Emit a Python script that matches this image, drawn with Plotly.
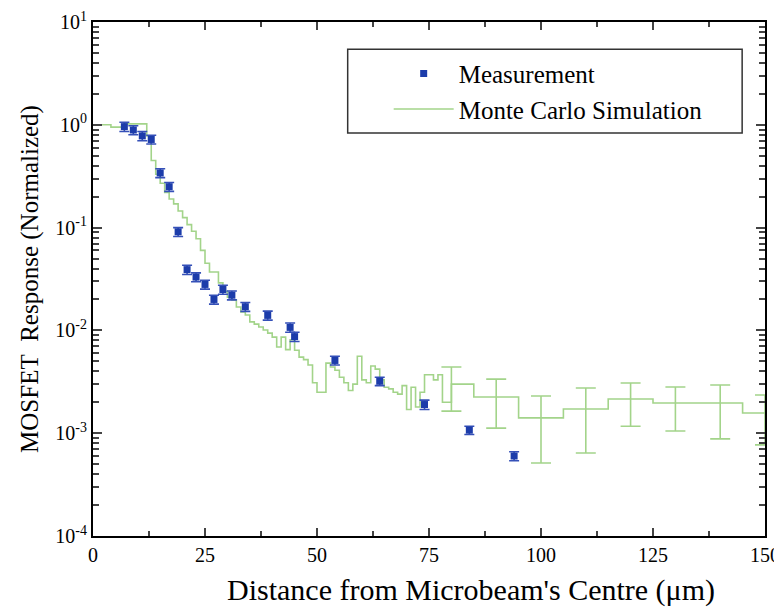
import plotly.graph_objects as go

# Measurement data
meas_x = [7, 9, 11, 13, 15, 17, 19, 21, 23, 25, 27, 29, 31, 34, 39, 44, 45, 54, 64, 74, 84, 94]
meas_y = [0.96, 0.89, 0.78, 0.72, 0.34, 0.25, 0.091, 0.039, 0.033, 0.028, 0.020, 0.025,
          0.022, 0.017, 0.014, 0.0107, 0.0087, 0.0051, 0.0032, 0.0019, 0.00107, 0.0006]
meas_err = [0.10, 0.09, 0.08, 0.07, 0.034, 0.025, 0.009, 0.004, 0.0033, 0.0028, 0.002, 0.0025,
            0.0022, 0.0017, 0.0014, 0.0011, 0.0009, 0.0005, 0.0003, 0.0002, 0.0001, 0.00006]

# Monte Carlo histogram: left bin edges and bin values (last value repeats to close final bin)
mc_edges = list(range(0, 80)) + [80, 85, 95, 105, 115, 125, 135, 145, 150]
mc_vals = [1.0, 1.0, 1.0, 1.0, 0.95, 0.95, 0.95, 1.02, 1.02, 1.02,
           1.02, 1.02, 0.78, 0.45, 0.33, 0.27, 0.22, 0.19, 0.17, 0.145,
           0.125, 0.107, 0.092, 0.078, 0.060, 0.045, 0.037, 0.037, 0.029, 0.024,
           0.021, 0.0198, 0.0169, 0.0151, 0.0141, 0.0121, 0.0115, 0.0108, 0.0101, 0.0094,
           0.0086, 0.0069, 0.0086, 0.0065, 0.0081, 0.0064, 0.0055, 0.0052, 0.0046, 0.0031,
           0.0025, 0.0025, 0.0048, 0.0044, 0.0041, 0.0035, 0.0031, 0.0026, 0.0030, 0.0056,
           0.0033, 0.0031, 0.0045, 0.0042, 0.0033, 0.0028, 0.0027, 0.0025, 0.0024, 0.0029,
           0.0017, 0.0028, 0.0018, 0.0025, 0.0037, 0.0037, 0.0033, 0.0037, 0.0020, 0.0020,
           0.0030, 0.00225, 0.00141, 0.00172, 0.00215, 0.00197, 0.00197, 0.00157, 0.00157]

# Monte Carlo error bars (wide bins)
mc_err_x = [80, 90, 100, 110, 120, 130, 140, 150]
mc_err_mid = [0.0030, 0.00225, 0.00141, 0.00172, 0.00215, 0.00197, 0.00197, 0.00157]
mc_err_hi = [0.0044, 0.00336, 0.0023, 0.00275, 0.00308, 0.00281, 0.00294, 0.00235]
mc_err_lo = [0.00164, 0.00112, 0.000513, 0.000641, 0.00117, 0.00105, 0.00088, 0.00077]

x_ticks = [0, 25, 50, 75, 100, 125, 150]
y_tickvals = [1e-4, 1e-3, 1e-2, 1e-1, 1, 10]
y_ticktext = ["10<sup>-4</sup>", "10<sup>-3</sup>", "10<sup>-2</sup>", "10<sup>-1</sup>",
              "10<sup>0</sup>", "10<sup>1</sup>"]

GREEN = "#a3d48a"
BLUE = "#1c3caa"
FONT = "Liberation Serif"

fig = go.Figure()

fig.add_trace(go.Scatter(
    x=mc_edges, y=mc_vals, mode="lines", line=dict(shape="hv", color=GREEN, width=1.6),
    name="Monte Carlo Simulation", showlegend=True, legendrank=2))

fig.add_trace(go.Scatter(
    x=mc_err_x, y=mc_err_mid, mode="markers", marker=dict(size=1, color="rgba(0,0,0,0)"),
    error_y=dict(type="data", symmetric=False,
                 array=[h - m for h, m in zip(mc_err_hi, mc_err_mid)],
                 arrayminus=[m - l for m, l in zip(mc_err_mid, mc_err_lo)],
                 color=GREEN, thickness=1.6, width=10),
    showlegend=False, hoverinfo="skip"))

fig.add_trace(go.Scatter(
    x=meas_x, y=meas_y, mode="markers", name="Measurement",
    marker=dict(symbol="square", size=7, color=BLUE),
    error_y=dict(type="data", array=meas_err, color="#3550b8", thickness=1.6, width=5),
    legendrank=1))

# note: the page body adds an 8px offset, margins compensate for it
fig.update_layout(
    width=782, height=612,
    margin=dict(l=85, r=25, t=14, b=84),
    paper_bgcolor="white", plot_bgcolor="white",
    font=dict(family=FONT, color="black", size=20),
    showlegend=True,
    legend=dict(x=0.440, y=0.944, xanchor="left", yanchor="top",
                bgcolor="rgba(0,0,0,0)", borderwidth=0,
                font=dict(family=FONT, size=25), itemwidth=60,
                tracegroupgap=0),
    shapes=[dict(type="rect", xref="paper", yref="paper",
                 x0=0.379, x1=0.966, y0=0.784, y1=0.947,
                 line=dict(color="#333333", width=1.5), fillcolor="rgba(0,0,0,0)")],
    annotations=[dict(text="Distance from Microbeam's Centre (μm)", xref="paper", yref="paper",
                      x=0.5625, y=-0.105, xanchor="center", yanchor="middle",
                      showarrow=False, font=dict(family=FONT, size=30, color="black"))],
)

fig.update_xaxes(
    range=[0, 150], tickvals=x_ticks, ticks="inside", ticklen=8, tickwidth=1.5,
    showline=True, linecolor="black", linewidth=2, mirror="ticks",
    showgrid=False, zeroline=False, automargin=False,
    minor=dict(tickvals=[12.5, 37.5, 62.5, 87.5, 112.5, 137.5], ticks="inside", ticklen=5,
               tickwidth=1.5, showgrid=False),
    tickfont=dict(family=FONT, size=20),
)

minor_y = [m * 10 ** e for e in range(-4, 1) for m in range(2, 10)]
fig.update_yaxes(
    type="log", range=[-4, 1], tickvals=y_tickvals, ticktext=y_ticktext,
    ticks="inside", ticklen=9, tickwidth=1.5,
    showline=True, linecolor="black", linewidth=2, mirror="ticks",
    showgrid=False, zeroline=False, automargin=False,
    minor=dict(tickvals=minor_y, ticks="inside", ticklen=6, tickwidth=1.5, showgrid=False),
    tickfont=dict(family=FONT, size=20),
    title=dict(text="MOSFET\u00a0 Response (Normalized)", font=dict(family=FONT, size=25),
               standoff=10),
)

fig.write_html("out.html")
